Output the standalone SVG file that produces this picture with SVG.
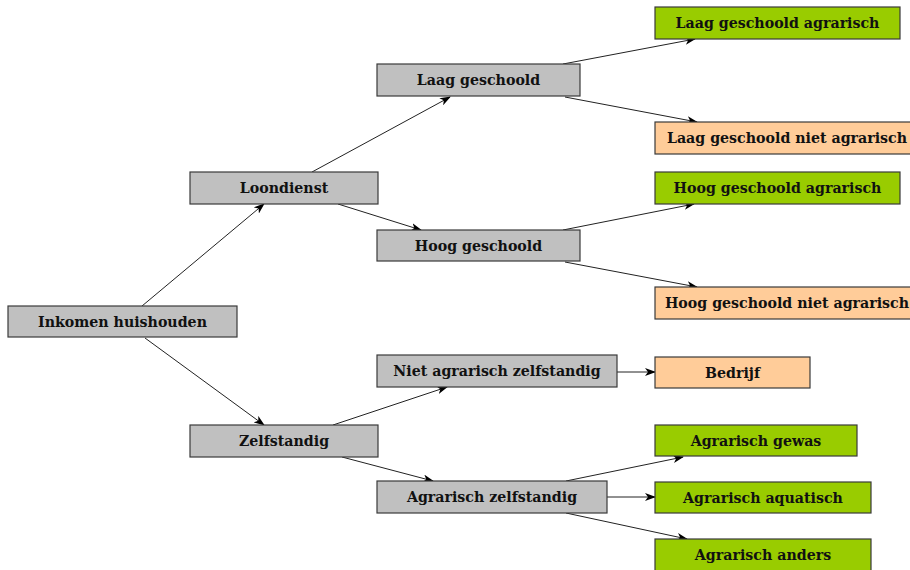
<svg xmlns="http://www.w3.org/2000/svg" width="910" height="570" viewBox="0 0 910 570">
<defs>
<marker id="ah" markerWidth="11" markerHeight="8" refX="10" refY="4" orient="auto" markerUnits="userSpaceOnUse">
<path d="M0,0 L11,4 L0,8 L3,4 z" fill="#000"/>
</marker>
<style>
.box{stroke:#3a3a3a;stroke-width:1.2}
.g{fill:#c0c0c0}
.gr{fill:#99cc00}
.p{fill:#ffcc99}
text{font-family:"DejaVu Serif","Liberation Serif",serif;font-weight:bold;font-size:14.2px;fill:#111;text-anchor:middle;dominant-baseline:central}
.c line{stroke:#222;stroke-width:1;marker-end:url(#ah)}
</style>
</defs>
<rect width="910" height="570" fill="#fff"/>
<g class="c" id="connectors">
<line x1="142" y1="306" x2="264" y2="204"/>
<line x1="145" y1="338" x2="264" y2="425"/>
<line x1="312" y1="172" x2="450" y2="97"/>
<line x1="338" y1="204" x2="421" y2="230"/>
<line x1="563" y1="64" x2="695" y2="39"/>
<line x1="565" y1="97" x2="697" y2="122"/>
<line x1="563" y1="230" x2="694" y2="204"/>
<line x1="565" y1="262" x2="697" y2="287"/>
<line x1="333" y1="425" x2="447" y2="387"/>
<line x1="342" y1="457" x2="433" y2="481"/>
<line x1="617" y1="372" x2="655" y2="372"/>
<line x1="566" y1="481" x2="683" y2="457"/>
<line x1="607" y1="497" x2="655" y2="497"/>
<line x1="566" y1="513" x2="687" y2="539"/>
</g>
<g id="inkomen"><rect class="box g" x="8" y="306" width="229" height="31"/><text x="122.5" y="321.5">Inkomen huishouden</text></g>
<g id="loondienst"><rect class="box g" x="190" y="172" width="188" height="32"/><text x="284" y="188">Loondienst</text></g>
<g id="zelfstandig"><rect class="box g" x="190" y="425" width="188" height="32"/><text x="284" y="441">Zelfstandig</text></g>
<g id="laag"><rect class="box g" x="377" y="64" width="203" height="32"/><text x="478.5" y="80">Laag geschoold</text></g>
<g id="hoog"><rect class="box g" x="377" y="230" width="203" height="31"/><text x="478.5" y="245.5">Hoog geschoold</text></g>
<g id="nietagrzelf"><rect class="box g" x="377" y="355" width="240" height="32"/><text x="497" y="371">Niet agrarisch zelfstandig</text></g>
<g id="agrzelf"><rect class="box g" x="377" y="481" width="230" height="32"/><text x="492" y="497">Agrarisch zelfstandig</text></g>
<g id="laagagr"><rect class="box gr" x="655" y="7" width="245" height="32"/><text x="777.5" y="23">Laag geschoold agrarisch</text></g>
<g id="laagniet"><rect class="box p" x="655" y="122" width="264" height="32"/><text x="787" y="138">Laag geschoold niet agrarisch</text></g>
<g id="hoogagr"><rect class="box gr" x="655" y="172" width="245" height="32"/><text x="777.5" y="188">Hoog geschoold agrarisch</text></g>
<g id="hoogniet"><rect class="box p" x="655" y="287" width="264" height="32"/><text x="787" y="303">Hoog geschoold niet agrarisch</text></g>
<g id="bedrijf"><rect class="box p" x="655" y="357" width="155" height="31"/><text x="732.5" y="372.5">Bedrijf</text></g>
<g id="gewas"><rect class="box gr" x="655" y="425" width="202" height="31"/><text x="756" y="440.5">Agrarisch gewas</text></g>
<g id="aquatisch"><rect class="box gr" x="655" y="482" width="216" height="31"/><text x="763" y="497.5">Agrarisch aquatisch</text></g>
<g id="anders"><rect class="box gr" x="655" y="539" width="216" height="32"/><text x="763" y="555">Agrarisch anders</text></g>
</svg>
